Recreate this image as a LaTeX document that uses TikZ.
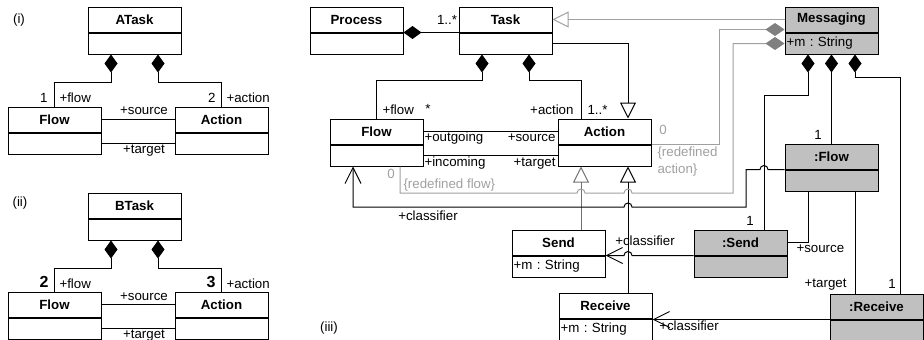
\documentclass[tikz,border=0pt]{standalone}
\usepackage{fontspec}
\setmainfont{Liberation Sans}
\usetikzlibrary{positioning,arrows.meta,calc}
\frenchspacing

\definecolor{linegray}{RGB}{160,160,160}
\definecolor{darkline}{RGB}{112,112,112}
\definecolor{instfill}{RGB}{192,192,192}
\definecolor{diagray}{RGB}{128,128,128}

\begin{document}
\begin{tikzpicture}[x=1pt, y=-1pt, line width=1pt,
  every node/.style={font=\fontsize{13.3}{15}\selectfont},
  cls/.style={draw, fill=white, minimum width=93pt, minimum height=25pt, inner sep=0pt, font=\fontsize{13.3}{15}\selectfont\bfseries},
  clsbody/.style={draw, fill=white, text width=90pt, inner xsep=1.5pt, inner ysep=0pt, minimum height=21pt, align=left},
  inst/.style={fill=instfill},
  lbl/.style={inner sep=1pt, text height=9.5pt, text depth=2.5pt},
  bignum/.style={lbl, font=\fontsize{16}{18}\selectfont\bfseries},
  comp/.style={{Diamond[length=18pt,width=13pt]}-},
  gcomp/.style={linegray, {Diamond[length=19pt,width=13pt,fill=diagray,color=diagray]}-},
  gen/.style={-{Triangle[open,length=16pt,width=16pt]}},
  nav/.style={-{Straight Barb[length=16pt,width=16pt]}}]
\useasboundingbox (0,0) rectangle (924,340);

% (i) ATask
\node[lbl] (labi) at (19,20) {(i)};
\node[cls] (atask) at (134.5,19.5) {ATask};
\node[clsbody, below=0pt of atask] (atask-b) {};
\node[cls] (flowA) at (54.5,119.5) {Flow};
\node[clsbody, below=0pt of flowA] (flowA-b) {};
\node[cls] (actionA) at (221.5,119.5) {Action};
\node[clsbody, below=0pt of actionA] (actionA-b) {};

\coordinate (at1) at ($(atask-b.south west)!0.25!(atask-b.south east)$);
\coordinate (at3) at ($(atask-b.south west)!0.75!(atask-b.south east)$);
\draw[comp] (at1) -- ++(0,28) -| (flowA.north);
\draw[comp] (at3) -- ++(0,28) -| (actionA.north);
\draw (flowA.east) -- (actionA.west);
\draw (flowA-b.east) -- (actionA-b.west);

\node[lbl, anchor=east] (a-m1) at (49,99) {1};
\node[lbl, anchor=west] (a-flow) at (58,99) {+flow};
\node[lbl, anchor=east] (a-m2) at (217,99) {2};
\node[lbl, anchor=west] (a-action) at (225,99) {+action};
\node[lbl] (a-source) at (144,111) {+source};
\node[lbl] (a-target) at (144,150) {+target};

% (ii) BTask
\node[lbl] (labii) at (20,203) {(ii)};
\node[cls] (btask) at (134.5,205.5) {BTask};
\node[clsbody, below=0pt of btask] (btask-b) {};
\node[cls] (flowB) at (54.5,304.5) {Flow};
\node[clsbody, below=0pt of flowB] (flowB-b) {};
\node[cls] (actionB) at (221.5,304.5) {Action};
\node[clsbody, below=0pt of actionB] (actionB-b) {};

\coordinate (bt1) at ($(btask-b.south west)!0.25!(btask-b.south east)$);
\coordinate (bt3) at ($(btask-b.south west)!0.75!(btask-b.south east)$);
\draw[comp] (bt1) -- ++(0,28) -| (flowB.north);
\draw[comp] (bt3) -- ++(0,28) -| (actionB.north);
\draw (flowB.east) -- (actionB.west);
\draw (flowB-b.east) -- (actionB-b.west);

\node[bignum, anchor=east] (b-m1) at (50,284) {2};
\node[lbl, anchor=west] (b-flow) at (58,285) {+flow};
\node[bignum, anchor=east] (b-m2) at (217,284) {3};
\node[lbl, anchor=west] (b-action) at (225,285) {+action};
\node[lbl] (b-source) at (144,297) {+source};
\node[lbl] (b-target) at (144,335) {+target};

% (iii) metamodel and Messaging instance
\node[lbl] (labiii) at (329,328) {(iii)};
\node[cls] (process) at (356.5,19.5) {Process};
\node[clsbody, below=0pt of process] (process-b) {};
\node[cls] (task) at (505.5,19.5) {Task};
\node[clsbody, below=0pt of task] (task-b) {};
\node[cls, inst] (messaging) at (831.5,19.5) {Messaging};
\node[clsbody, inst, below=0pt of messaging] (messaging-b) {+m : String};
\node[cls] (flowC) at (376.5,131.5) {Flow};
\node[clsbody, below=0pt of flowC] (flowC-b) {};
\node[cls] (actionC) at (604.5,131.5) {Action};
\node[clsbody, below=0pt of actionC] (actionC-b) {};
\node[cls, inst] (flowI) at (831.5,156.5) {:Flow};
\node[clsbody, inst, below=0pt of flowI] (flowI-b) {};
\node[cls] (send) at (558.5,242.5) {Send};
\node[clsbody, below=0pt of send] (send-b) {+m : String};
\node[cls, inst] (sendI) at (740.5,242.5) {:Send};
\node[clsbody, inst, below=0pt of sendI] (sendI-b) {};
\node[cls] (receive) at (605.5,305.5) {Receive};
\node[clsbody, below=0pt of receive] (receive-b) {+m : String};
\node[cls, inst] (receiveI) at (876.5,306.5) {:Receive};
\node[clsbody, inst, below=0pt of receiveI] (receiveI-b) {};

\coordinate (tk1) at ($(task-b.south west)!0.25!(task-b.south east)$);
\coordinate (tk3) at ($(task-b.south west)!0.75!(task-b.south east)$);
\coordinate (aC1) at ($(actionC.north west)!0.25!(actionC.north east)$);
\coordinate (aC3) at ($(actionC.north west)!0.75!(actionC.north east)$);
\coordinate (gS) at ($(actionC-b.south west)!0.25!(actionC-b.south east)$);
\coordinate (gR) at ($(actionC-b.south west)!0.75!(actionC-b.south east)$);
\coordinate (fC1) at ($(flowC-b.south west)!0.25!(flowC-b.south east)$);
\coordinate (fC3) at ($(flowC-b.south west)!0.75!(flowC-b.south east)$);
\coordinate (mg1) at ($(messaging-b.south west)!0.25!(messaging-b.south east)$);
\coordinate (mg3) at ($(messaging-b.south west)!0.75!(messaging-b.south east)$);
\coordinate (sI3) at ($(sendI.north west)!0.75!(sendI.north east)$);
\coordinate (rI3) at ($(receiveI.north west)!0.75!(receiveI.north east)$);
\coordinate (fI1) at ($(flowI-b.south west)!0.25!(flowI-b.south east)$);
\coordinate (fI3) at ($(flowI-b.south west)!0.75!(flowI-b.south east)$);
\coordinate (rf) at (733,193);
\coordinate (cf) at (746,207);

% metamodel
\draw[comp] (process.south east) -- (task.south west);
\draw[gen, linegray] (messaging.west) -- (task.east);
\draw[gen] (task-b.east) -| (aC3);
\draw[comp] (tk1) -- ++(0,26) -| (flowC.north);
\draw[comp] (tk3) -- ++(0,26) -| (aC1);
\draw (flowC.east) -- (actionC.west);
\draw (flowC-b.east) -- (actionC-b.west);
\draw[gen, darkline] (gS |- send.north) -- (gS);
\draw[gen] (gR |- receive.north) -- (gR);

% redefinitions
\draw[gcomp] ([yshift=3pt]messaging.south west) -- ++(-65,0) |- (actionC.south east);
\draw[gcomp] (messaging-b.west) -| (rf)
  -- ($(rf -| gR)+(4,0)$) arc[start angle=0, end angle=180, radius=4pt]
  -- ($(rf -| gS)+(4,0)$) arc[start angle=0, end angle=180, radius=4pt] -| (fC3);

% instance links
\draw[comp] (mg1) -- ++(0,41) -| (sI3);
\draw[comp] (messaging-b.south) -- (flowI.north);
\draw[comp] (mg3) -- ++(0,23) -| (rI3);
\draw (fI1) |- (sendI.east);
\draw (fI3) -- (fI3 |- receiveI.north);
\draw[nav] (flowI.south west) -- ($(flowI.south west -| sI3)+(4,0)$)
  arc[start angle=0, end angle=180, radius=4pt] -| (cf)
  -- ($(cf -| gR)+(4,0)$) arc[start angle=0, end angle=180, radius=4pt] -| (fC1);
\draw[nav] (sendI.south west) -- ($(sendI.south west -| gR)+(4,0)$)
  arc[start angle=0, end angle=180, radius=4pt] -- (send.south east);
\draw[nav] (receiveI.south west) -- (receiveI.south west -| receive.east);

% labels
\node[lbl] (c-proc) at (447,21) {1..*};
\node[lbl, anchor=west] (c-flow) at (381,111) {+flow};
\node[lbl] (c-fm) at (428,110) {*};
\node[lbl, anchor=east] (c-action) at (575,111) {+action};
\node[lbl, anchor=west] (c-am) at (586,111) {1..*};
\node[lbl, anchor=west] (c-out) at (423,138) {+outgoing};
\node[lbl, anchor=east] (c-src) at (557,138) {+source};
\node[lbl, anchor=west] (c-in) at (423,163) {+incoming};
\node[lbl, anchor=east] (c-tgt) at (557,163) {+target};
\node[lbl, text=linegray] (r-a0) at (663,131) {0};
\node[text=linegray, anchor=north west, align=left, inner sep=1pt, font=\fontsize{13.3}{17}\selectfont] (r-act) at (656,145) {\{redefined\\action\}};
\node[lbl, text=linegray] (r-f0) at (391,175) {0};
\node[lbl, text=linegray, anchor=west] (r-flow) at (402,185) {\{redefined flow\}};
\node[lbl] (cl-flow) at (428,217) {+classifier};
\node[lbl] (cl-send) at (645,242) {+classifier};
\node[lbl] (cl-recv) at (689,327) {+classifier};
\node[lbl] (i-send) at (750,222) {1};
\node[lbl] (i-flow) at (818,136) {1};
\node[lbl] (i-recv) at (892,285) {1};
\node[lbl, anchor=west] (i-src) at (795,249) {+source};
\node[lbl, anchor=east] (i-tgt) at (848,284) {+target};
\end{tikzpicture}
\end{document}
